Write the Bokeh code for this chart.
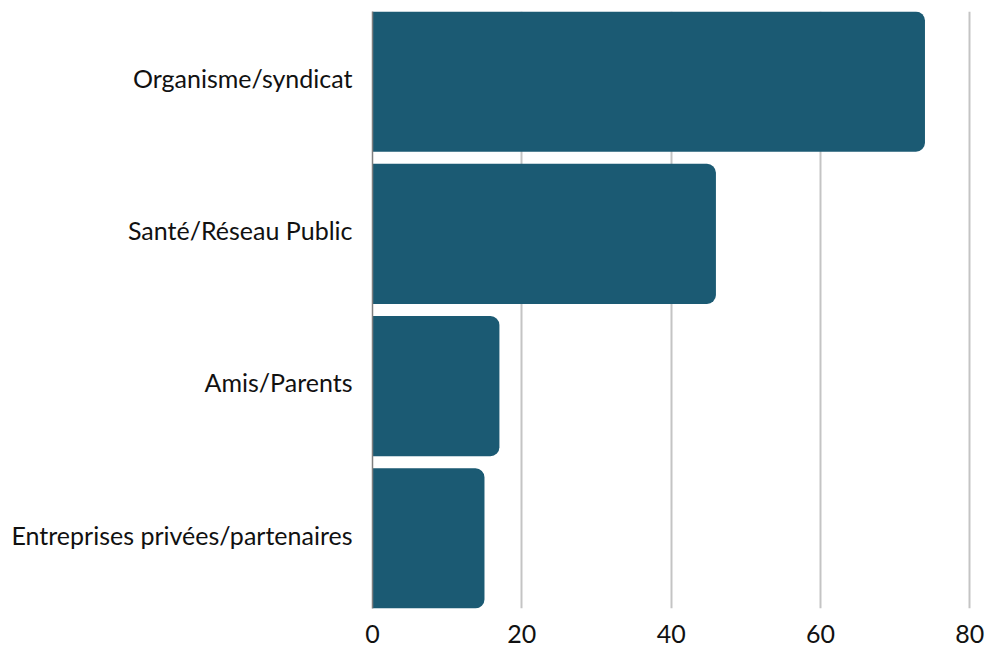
from bokeh.plotting import figure
from bokeh.models import Range1d, FixedTicker
from bokeh.embed import file_html
from bokeh.resources import INLINE

# Sources cited, top to bottom
categories = ["Organisme/syndicat", "Santé/Réseau Public", "Amis/Parents",
              "Entreprises privées/partenaires"]
values = [74, 46, 17, 15]
x_ticks = [0, 20, 40, 60, 80]

positions = list(range(len(categories) - 1, -1, -1))  # top row gets the highest y
bar_h = 0.921
label_lift = 0.025  # nudge category names slightly above the bar centre

p = figure(width=987, height=646, output_backend="svg", toolbar_location=None,
           x_range=Range1d(0, 80.5),
           y_range=Range1d(-bar_h / 2, positions[0] + bar_h / 2),
           min_border_left=372, min_border_right=14,
           min_border_top=11, min_border_bottom=38)
p.outline_line_color = None
p.background_fill_color = "white"
p.border_fill_color = "white"

p.hbar(y=positions, right=values, left=0, height=bar_h,
       fill_color="#1b5a73", line_color=None,
       border_radius=(0, 9, 9, 0))

# y axis: category names, grey baseline, no ticks
label_ticks = [pos + label_lift for pos in positions]
p.yaxis.ticker = FixedTicker(ticks=label_ticks)
p.yaxis.major_label_overrides = {t: name for t, name in zip(label_ticks, categories)}
p.yaxis.axis_line_color = "#7f7f7f"
p.yaxis.axis_line_width = 1.5
p.yaxis.major_tick_line_color = None
p.yaxis.minor_tick_line_color = None
p.yaxis.major_label_standoff = 14
p.yaxis.major_label_text_font = "Lato"
p.yaxis.major_label_text_font_size = "25px"
p.yaxis.major_label_text_color = "#111111"

# x axis: value labels only
p.xaxis.ticker = FixedTicker(ticks=x_ticks)
p.xaxis.axis_line_color = None
p.xaxis.major_tick_line_color = None
p.xaxis.minor_tick_line_color = None
p.xaxis.major_label_standoff = 10
p.xaxis.major_label_text_font = "Lato"
p.xaxis.major_label_text_font_size = "25px"
p.xaxis.major_label_text_color = "#111111"

p.ygrid.grid_line_color = None
p.xgrid.ticker = FixedTicker(ticks=x_ticks[1:])
p.xgrid.grid_line_color = "#c4c4c4"
p.xgrid.grid_line_width = 2

open("out.html", "w").write(file_html(p, INLINE))
